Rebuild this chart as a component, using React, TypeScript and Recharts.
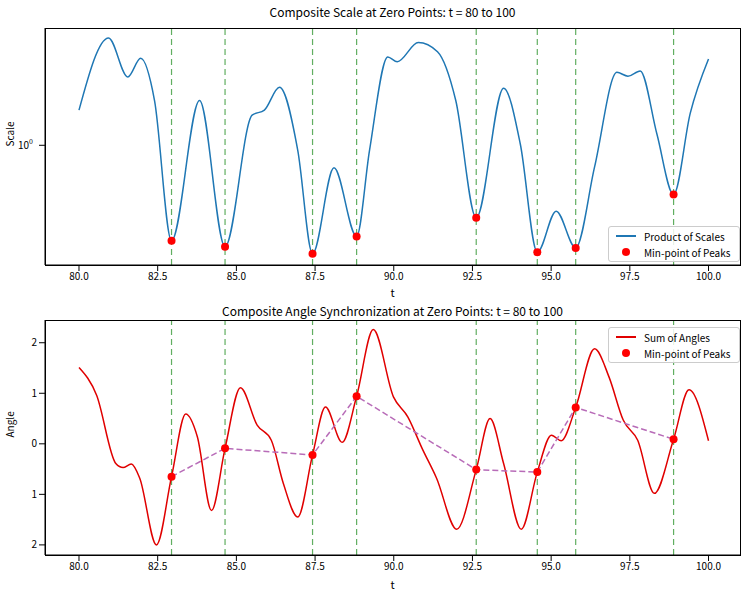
import React from "react";
import { ComposedChart, Line, Scatter, XAxis, YAxis, ReferenceLine } from "recharts";

const tScale = [80, 80.94, 81.55, 81.96, 82.4, 82.94, 83.83, 84.64, 85.5, 85.89, 86.37, 86.95, 87.42, 88.1, 88.82, 89.23, 89.81, 90.11, 90.78, 91.39, 91.97, 92.62, 93.49, 94.02, 94.56, 95.16, 95.78, 96.38, 97.09, 97.44, 97.83, 98.36, 98.89, 99.42, 100];
const scaleVals = [1.31, 2.28, 1.69, 1.95, 1.41, 0.481, 1.41, 0.459, 1.26, 1.31, 1.56, 0.962, 0.435, 0.841, 0.497, 0.962, 1.97, 1.9, 2.2, 2.05, 1.41, 0.573, 1.55, 1.01, 0.44, 0.603, 0.455, 0.847, 1.75, 1.7, 1.77, 1.09, 0.685, 1.28, 1.94];

const zeroPoints = [82.94, 84.64, 87.42, 88.82, 92.62, 94.56, 95.78, 98.89];
const minScale = [0.481, 0.459, 0.435, 0.497, 0.573, 0.44, 0.455, 0.685];

const tAngle = [80, 80.56, 81.17, 81.4, 81.66, 81.93, 82.46, 82.94, 83.39, 83.76, 84.21, 84.64, 85.13, 85.66, 86.11, 86.49, 86.95, 87.42, 87.83, 88.36, 88.82, 89.35, 89.99, 90.45, 90.9, 91.36, 92.0, 92.62, 93.06, 93.49, 94.05, 94.56, 95.01, 95.32, 95.78, 96.38, 96.84, 97.29, 97.75, 98.28, 98.89, 99.38, 100];
const angleVals = [1.51, 0.96, -0.39, -0.47, -0.4, -0.68, -2.0, -0.65, 0.59, 0.14, -1.32, -0.09, 1.11, 0.37, 0.07, -0.78, -1.45, -0.22, 0.73, 0.03, 0.94, 2.26, 0.93, 0.53, -0.09, -0.68, -1.69, -0.51, 0.5, -0.39, -1.69, -0.56, 0.17, 0.06, 0.72, 1.88, 1.32, 0.47, 0.07, -0.98, 0.09, 1.07, 0.06];
const minAngle = [-0.65, -0.09, -0.22, 0.94, -0.51, -0.56, 0.72, 0.09];

const xTicks = [80, 82.5, 85, 87.5, 90, 92.5, 95, 97.5, 100];
const angleTicks = [-2, -1, 0, 1, 2];

const scaleData = tScale.map((t, i) => ({ t, v: scaleVals[i] }));
const scaleMin = zeroPoints.map((t, i) => ({ t, v: minScale[i] }));
const angleData = tAngle.map((t, i) => ({ t, v: angleVals[i] }));
const angleMin = zeroPoints.map((t, i) => ({ t, v: minAngle[i] }));

const FONT = '"Noto Sans CJK JP", "DejaVu Sans", sans-serif';
const tickStyle = { fontSize: 10, fill: "#000", fontFamily: FONT };

const LegendBox = ({ lineColor, lineLabel, top }: { lineColor: string; lineLabel: string; top: number }) => (
  <div style={{ position: "absolute", left: 608, top, width: 120, border: "1px solid #ccc", borderRadius: 3, background: "rgba(255,255,255,0.85)", padding: "2px 5px", fontFamily: FONT, fontSize: 10 }}>
    <div style={{ display: "flex", alignItems: "center", height: 14 }}>
      <svg width={24} height={10}><line x1={2} y1={5} x2={22} y2={5} stroke={lineColor} strokeWidth={2} /></svg>
      <span style={{ marginLeft: 6 }}>{lineLabel}</span>
    </div>
    <div style={{ display: "flex", alignItems: "center", height: 14, marginTop: 2 }}>
      <svg width={24} height={10}><circle cx={12} cy={5} r={4} fill="red" /></svg>
      <span style={{ marginLeft: 6 }}>Min-point of Peaks</span>
    </div>
  </div>
);

const Title = ({ text, top }: { text: string; top: number }) => (
  <div style={{ position: "absolute", top, left: 45, width: 695, textAlign: "center", fontFamily: FONT, fontSize: 12 }}>{text}</div>
);

const Frame = ({ top, h }: { top: number; h: number }) => (
  <div style={{ position: "absolute", left: 45, top, width: 694, height: h, border: "1px solid #000", pointerEvents: "none" }} />
);

const refLines = zeroPoints.map((z) => (
  <ReferenceLine key={z} x={z} stroke="#3a9a3a" strokeDasharray="6 4" strokeWidth={1.2} strokeOpacity={0.8} />
));

export default function App() {
  return (
    <div style={{ position: "absolute", left: 0, top: 0, width: 750, height: 600, background: "#fff" }}>
      <Title text="Composite Scale at Zero Points: t = 80 to 100" top={3} />
      <ComposedChart width={750} height={300} margin={{ top: 28, right: 10, left: 0, bottom: 0 }} style={{ position: "absolute", top: 0, left: 0 }}>
        <XAxis dataKey="t" type="number" domain={[78.92, 101]} ticks={xTicks} tickFormatter={(v) => v.toFixed(1)} tick={tickStyle} stroke="#000" height={35}
          label={{ value: "t", position: "insideBottom", offset: 3, style: { ...tickStyle, fontSize: 11 } }} />
        <YAxis type="number" scale="log" domain={[0.399, 2.46]} ticks={[1]} allowDataOverflow width={45} stroke="#000"
          tick={(p: any) => (
            <text x={p.x - 4} y={p.y + 4} textAnchor="end" style={tickStyle}>10<tspan dy={-5} fontSize={7}>0</tspan></text>
          )}
          label={{ value: "Scale", angle: -90, position: "insideLeft", offset: 10, style: { ...tickStyle, fontSize: 10 } }} />
        {refLines}
        <Line data={scaleData} dataKey="v" type="monotone" stroke="#1f77b4" strokeWidth={1.5} dot={false} isAnimationActive={false} />
        <Scatter data={scaleMin} dataKey="v" shape={(p: any) => <circle cx={p.cx} cy={p.cy} r={4} fill="red" />} isAnimationActive={false} />
      </ComposedChart>
      <Frame top={28} h={236} />
      <LegendBox lineColor="#1f77b4" lineLabel="Product of Scales" top={226} />
      <Title text="Composite Angle Synchronization at Zero Points: t = 80 to 100" top={302} />
      <ComposedChart width={750} height={300} margin={{ top: 28, right: 10, left: 0, bottom: 0 }} style={{ position: "absolute", top: 292, left: 0 }}>
        <XAxis dataKey="t" type="number" domain={[78.92, 101]} ticks={xTicks} tickFormatter={(v) => v.toFixed(1)} tick={tickStyle} stroke="#000" height={37}
          label={{ value: "t", position: "insideBottom", offset: 3, style: { ...tickStyle, fontSize: 11 } }} />
        <YAxis type="number" domain={[-2.2, 2.45]} ticks={angleTicks} allowDataOverflow width={45} stroke="#000" tick={tickStyle}
          tickFormatter={(v) => String(Math.abs(v))}
          label={{ value: "Angle", angle: -90, position: "insideLeft", offset: 10, style: { ...tickStyle, fontSize: 10 } }} />
        {refLines}
        <Line data={angleData} dataKey="v" type="monotone" stroke="#e00000" strokeWidth={1.5} dot={false} isAnimationActive={false} />
        <Line data={angleMin} dataKey="v" type="linear" stroke="#b86cb8" strokeWidth={1.5} strokeDasharray="6 3" dot={false} isAnimationActive={false} />
        <Scatter data={angleMin} dataKey="v" shape={(p: any) => <circle cx={p.cx} cy={p.cy} r={4} fill="red" />} isAnimationActive={false} />
      </ComposedChart>
      <Frame top={320} h={234} />
      <LegendBox lineColor="#e00000" lineLabel="Sum of Angles" top={327} />
    </div>
  );
}
